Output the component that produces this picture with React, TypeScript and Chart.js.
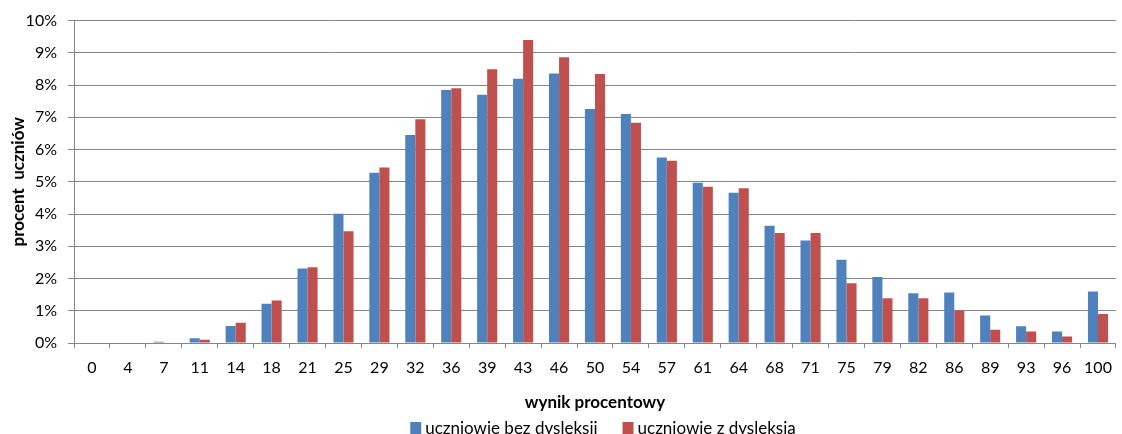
import React, { useEffect, useRef } from "react";
import { Chart, registerables } from "chart.js";

Chart.register(...registerables);

const categories = ["0","4","7","11","14","18","21","25","29","32","36","39","43","46","50","54","57","61","64","68","71","75","79","82","86","89","93","96","100"];
const bezDysleksji = [0, 0, 0.04, 0.15, 0.53, 1.22, 2.31, 4.01, 5.28, 6.45, 7.85, 7.7, 8.2, 8.36, 7.26, 7.1, 5.75, 4.97, 4.66, 3.64, 3.18, 2.58, 2.05, 1.54, 1.57, 0.85, 0.52, 0.36, 1.6];
const zDysleksja = [0, 0, 0, 0.1, 0.63, 1.32, 2.35, 3.47, 5.44, 6.94, 7.9, 8.49, 9.4, 8.86, 8.34, 6.83, 5.65, 4.85, 4.8, 3.41, 3.41, 1.85, 1.39, 1.39, 1.0, 0.41, 0.36, 0.2, 0.9];
const seriesNames = ["uczniowie bez dysleksji", "uczniowie z dysleksją"];
const yTitle = "procent  uczniów";
const xTitle = "wynik procentowy";

const FONT = "Lato, 'Open Sans', sans-serif";
const GRID = "#868686";

const legendPlugin = {
  id: "bottomLegend",
  afterDraw(chart: any) {
    const ctx = chart.ctx as CanvasRenderingContext2D;
    const ds = chart.data.datasets;
    ctx.save();
    ctx.font = `17px ${FONT}`;
    const box = 11, gapText = 4, gapItem = 25;
    const widths = ds.map((d: any) => ctx.measureText(d.label).width);
    const total = widths.reduce((a: number, w: number) => a + box + gapText + w, 0) + gapItem * (ds.length - 1);
    const cx = (chart.chartArea.left + chart.chartArea.right) / 2 + 8;
    let x = cx - total / 2;
    const baseY = chart.height;
    ds.forEach((d: any, i: number) => {
      ctx.fillStyle = d.backgroundColor;
      ctx.fillRect(x, chart.height - 12, box, 12);
      x += box + gapText;
      ctx.fillStyle = "#000";
      ctx.textBaseline = "alphabetic";
      ctx.textAlign = "left";
      ctx.fillText(d.label, x, baseY);
      x += widths[i] + gapItem;
    });
    ctx.restore();
  },
};

export default function App() {
  const ref = useRef<HTMLCanvasElement | null>(null);
  useEffect(() => {
    if (!ref.current) return;
    const chart = new Chart(ref.current, {
      type: "bar",
      data: {
        labels: categories,
        datasets: [
          { label: seriesNames[0], data: bezDysleksji, backgroundColor: "#4F81BD", barPercentage: 1, categoryPercentage: 0.56 },
          { label: seriesNames[1], data: zDysleksja, backgroundColor: "#C0504D", barPercentage: 1, categoryPercentage: 0.56 },
        ],
      },
      plugins: [legendPlugin],
      options: {
        animation: false,
        responsive: true,
        maintainAspectRatio: false,
        layout: { padding: { top: 20, right: 5, left: 0, bottom: 0 } },
        plugins: {
          tooltip: { enabled: false },
          legend: { display: false },
        },
        scales: {
          x: {
            afterFit: (s: any) => { s.height = 91; },
            grid: { display: true, drawOnChartArea: false, drawTicks: true, tickLength: 5, offset: true, color: GRID },
            border: { display: true, color: GRID },
            ticks: { color: "#000", font: { family: FONT, size: 16 }, maxRotation: 0, autoSkip: false, padding: 10 },
            title: { display: true, text: xTitle, color: "#000", font: { family: FONT, size: 17, weight: "bold", lineHeight: 1 }, padding: { top: 0, bottom: 22.5 } },
          },
          y: {
            afterFit: (s: any) => { s.width = 74; },
            min: 0,
            max: 10,
            ticks: { stepSize: 1, color: "#000", font: { family: FONT, size: 16 }, callback: (v: any) => v + "%", padding: 11 },
            grid: { color: GRID, drawTicks: true, tickLength: 6 },
            border: { display: true, color: GRID },
            title: { display: true, text: yTitle, color: "#000", font: { family: FONT, size: 17, weight: "bold", lineHeight: 1 }, padding: { top: 10, bottom: 0 } },
          },
        },
      },
    });
    return () => chart.destroy();
  }, []);
  return (
    <div style={{ position: "absolute", left: 0, top: 0, width: 1122, height: 434, background: "#fff" }}>
      <canvas ref={ref} />
    </div>
  );
}
